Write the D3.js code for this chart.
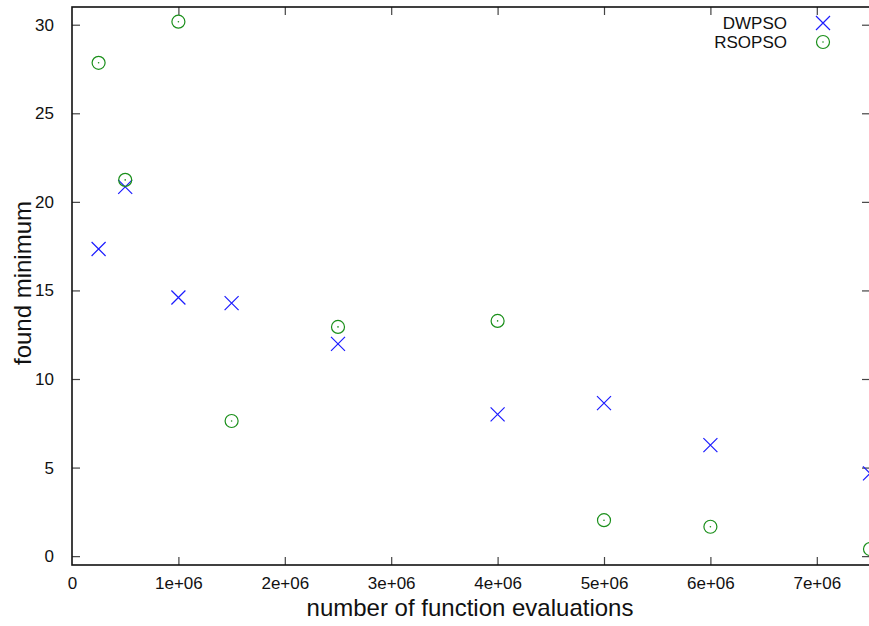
<!DOCTYPE html>
<html>
<head>
<meta charset="utf-8">
<script src="https://cdn.jsdelivr.net/npm/d3@7"></script>
<style>
  body { margin: 0; background: #fff; }
  svg { display: block; font-family: "Liberation Sans", Arial, sans-serif; }
</style>
</head>
<body>
<div id="chart"></div>
<script>
// evaluations (x) for every sample
const evals = [250000, 500000, 1000000, 1500000, 2500000, 4000000, 5000000, 6000000, 7500000];
const dwpso = [17.34, 20.85, 14.6, 14.28, 11.98, 8.0, 8.64, 6.27, 4.67];
const rsopso = [27.85, 21.24, 30.17, 7.63, 12.94, 13.28, 2.03, 1.66, 0.4];
const xTicks = [0, 1e6, 2e6, 3e6, 4e6, 5e6, 6e6, 7e6];
const xTickLabels = ["0", "1e+06", "2e+06", "3e+06", "4e+06", "5e+06", "6e+06", "7e+06"];
const yTicks = [0, 5, 10, 15, 20, 25, 30];
const seriesNames = ["DWPSO", "RSOPSO"];

const width = 869, height = 626;
const plotLeft = 72, plotRight = 870, plotTop = 7, plotBottom = 565;
const blue = "#1c1cff", green = "#1a8f1a";

const svg = d3.select("#chart").append("svg")
    .attr("width", width)
    .attr("height", height);

const x = d3.scaleLinear().domain([0, 7.5e6]).range([plotLeft, plotRight]);
const y = d3.scaleLinear().domain([-0.5, 31]).range([plotBottom, plotTop]);

// ticks, inward on all four sides
const tickLen = 8;
const xAxis = d3.axisBottom(x).tickValues(xTicks).tickSizeInner(-tickLen).tickSizeOuter(0)
    .tickFormat((d, i) => xTickLabels[i]).tickPadding(12);
const yAxis = d3.axisLeft(y).tickValues(yTicks).tickSizeInner(-tickLen).tickSizeOuter(0).tickPadding(18);

const gx = svg.append("g").attr("transform", `translate(0,${plotBottom})`).call(xAxis);
const gy = svg.append("g").attr("transform", `translate(${plotLeft},0)`).call(yAxis);
const gx2 = svg.append("g").attr("transform", `translate(0,${plotTop})`)
    .call(d3.axisTop(x).tickValues(xTicks).tickSizeInner(-tickLen).tickSizeOuter(0).tickFormat(""));
const gy2 = svg.append("g").attr("transform", `translate(${plotRight},0)`)
    .call(d3.axisRight(y).tickValues(yTicks).tickSizeInner(-tickLen).tickSizeOuter(0).tickFormat(""));

[gx, gy, gx2, gy2].forEach(g => {
    g.select(".domain").remove();
    g.selectAll(".tick line").attr("stroke", "#444").attr("stroke-width", 1.2);
    g.selectAll(".tick text").attr("fill", "#111").attr("font-size", 17)
        .attr("font-family", "'Liberation Sans', Arial, sans-serif");
});
// the first x tick sits on the border
gx.selectAll(".tick line").filter(d => d === 0).remove();
gx2.selectAll(".tick line").filter(d => d === 0).remove();

// border
svg.append("rect")
    .attr("x", plotLeft).attr("y", plotTop)
    .attr("width", plotRight - plotLeft).attr("height", plotBottom - plotTop)
    .attr("fill", "none").attr("stroke", "#111").attr("stroke-width", 1.6);

// axis titles
svg.append("text")
    .attr("x", (plotLeft + 868) / 2).attr("y", 616)
    .attr("text-anchor", "middle").attr("font-size", 24).attr("fill", "#111")
    .text("number of function evaluations");
svg.append("text")
    .attr("transform", `translate(31,${283}) rotate(-90)`)
    .attr("text-anchor", "middle").attr("font-size", 24).attr("fill", "#111")
    .text("found minimum");

function drawCross(g, cx, cy) {
    const s = 7;
    g.append("path")
        .attr("d", `M${cx - s},${cy - s}L${cx + s},${cy + s}M${cx - s},${cy + s}L${cx + s},${cy - s}`)
        .attr("stroke", blue).attr("stroke-width", 1.2).attr("fill", "none");
}
function drawCircle(g, cx, cy) {
    g.append("circle").attr("cx", cx).attr("cy", cy).attr("r", 6.5)
        .attr("fill", "none").attr("stroke", green).attr("stroke-width", 1.2);
    g.append("circle").attr("cx", cx).attr("cy", cy).attr("r", 0.8).attr("fill", green);
}

const marks = svg.append("g");
evals.forEach((e, i) => drawCross(marks, x(e), y(dwpso[i])));
evals.forEach((e, i) => drawCircle(marks, x(e), y(rsopso[i])));

// legend
const legend = svg.append("g");
seriesNames.forEach((name, i) => {
    const ly = 23 + i * 19;
    legend.append("text")
        .attr("x", 787).attr("y", ly + 6)
        .attr("text-anchor", "end").attr("font-size", 17).attr("fill", "#111")
        .text(name);
    if (i === 0) drawCross(legend, 823, ly);
    else drawCircle(legend, 823, ly);
});
</script>
</body>
</html>
